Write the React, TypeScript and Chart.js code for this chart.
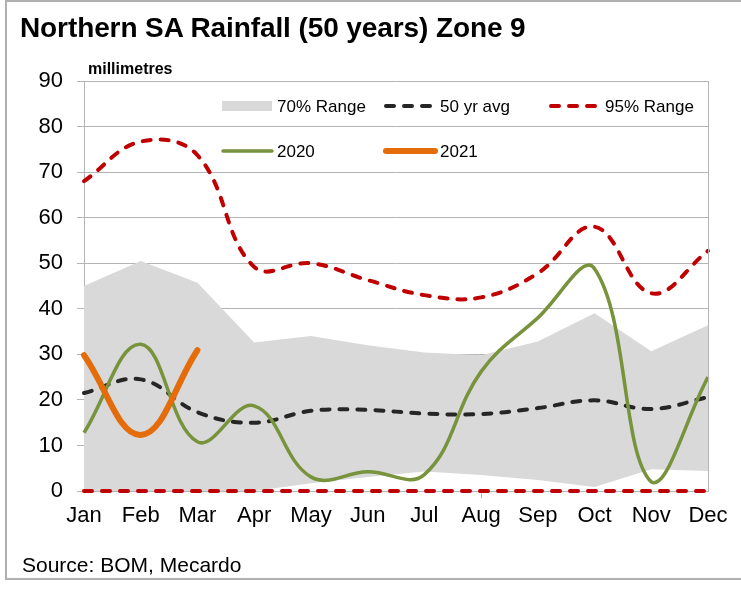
import React, { useEffect, useRef } from "react";
import { Chart, registerables } from "chart.js";

Chart.register(...registerables);

const months = ["Jan", "Feb", "Mar", "Apr", "May", "Jun", "Jul", "Aug", "Sep", "Oct", "Nov", "Dec"];
const range70Upper = [45, 50.5, 45.7, 32.6, 34, 32, 30.4, 29.8, 32.8, 39, 30.7, 36.4];
const range70Lower = [0, 0, 0, 0, 1.7, 3.1, 4.3, 3.5, 2.4, 0.9, 4.8, 4.4];
const avg50 = [21.5, 24.5, 17.3, 15, 17.6, 17.8, 17, 16.9, 18.2, 19.9, 18, 20.6];
const range95Upper = [68, 76.7, 73.7, 49.2, 50, 46.3, 43, 42.5, 47.8, 58, 43.4, 52.7];
const range95Lower = [0, 0, 0, 0, 0, 0, 0, 0, 0, 0, 0, 0];
const rain2020 = [12.8, 32.2, 10.8, 18.7, 3.1, 4.2, 3.6, 26.2, 38, 48.8, 2, 25];
const rain2021 = [29.8, 12.3, 30.9];
const yMin = 0;
const yMax = 90;
const yStep = 10;

const FONT = '"Liberation Sans", Arial, sans-serif';
const GRID = "#B4B4B4";
const RED = "#C00000";
const BLACK = "#262626";
const GREEN = "#77933C";
const ORANGE = "#E46C0A";
const GREY = "#D9D9D9";

const legendItems = [
  { label: "70% Range", kind: "box", color: GREY, row: 0, col: 0 },
  { label: "50 yr avg", kind: "dash", color: BLACK, row: 0, col: 1 },
  { label: "95% Range", kind: "dash", color: RED, row: 0, col: 2 },
  { label: "2020", kind: "line", color: GREEN, width: 3.5, row: 1, col: 0 },
  { label: "2021", kind: "line", color: ORANGE, width: 6, row: 1, col: 1 },
];

const extrasPlugin = {
  id: "extras",
  afterDraw(chart: any) {
    const ctx = chart.ctx;
    const area = chart.chartArea;
    const xs = chart.scales.x;
    ctx.save();
    // right border of plot area
    ctx.strokeStyle = GRID;
    ctx.lineWidth = 1;
    ctx.setLineDash([]);
    ctx.beginPath();
    ctx.moveTo(Math.round(area.right) + 0.5, area.top);
    ctx.lineTo(Math.round(area.right) + 0.5, area.bottom);
    ctx.stroke();
    // single tick mark on category axis
    const tx = Math.round(xs.getPixelForValue(7)) + 0.5;
    ctx.beginPath();
    ctx.moveTo(tx, area.bottom + 2);
    ctx.lineTo(tx, area.bottom + 7);
    ctx.stroke();

    // legend
    const colX = [221, 384, 549];
    const rowY = [106, 151];
    ctx.font = "17px " + FONT;
    ctx.textBaseline = "middle";
    ctx.textAlign = "left";
    legendItems.forEach((it: any) => {
      const x0 = colX[it.col];
      const y = rowY[it.row];
      if (it.kind === "box") {
        ctx.fillStyle = it.color;
        ctx.fillRect(x0 + 1, y - 5, 50, 10);
      } else if (it.kind === "dash") {
        ctx.strokeStyle = it.color;
        ctx.lineWidth = 4;
        ctx.lineCap = "round";
        ctx.setLineDash([8, 10]);
        ctx.beginPath();
        ctx.moveTo(x0 + 2, y);
        ctx.lineTo(x0 + 47, y);
        ctx.stroke();
        ctx.setLineDash([]);
      } else {
        ctx.strokeStyle = it.color;
        ctx.lineWidth = it.width;
        ctx.lineCap = "round";
        ctx.beginPath();
        ctx.moveTo(x0 + 2, y);
        ctx.lineTo(x0 + 51, y);
        ctx.stroke();
      }
      ctx.fillStyle = "#000";
      ctx.fillText(it.label, x0 + 56, y + 1);
    });
    ctx.restore();
  },
};

export default function App() {
  const canvasRef = useRef<HTMLCanvasElement | null>(null);

  useEffect(() => {
    const canvas = canvasRef.current;
    if (!canvas) return;
    const dashed = (color: string) => ({
      borderColor: color,
      borderWidth: 4,
      borderDash: [8, 10],
      borderCapStyle: "round",
      pointRadius: 0,
      fill: false,
      tension: 0.4,
      clip: 8,
    });
    const chart = new Chart(canvas, {
      type: "line",
      data: {
        labels: months,
        datasets: [
          {
            label: "70% Range",
            data: range70Upper,
            borderColor: "rgba(0,0,0,0)",
            borderWidth: 0,
            backgroundColor: GREY,
            pointRadius: 0,
            tension: 0,
            fill: 1,
            order: 10,
          } as any,
          {
            label: "70% lower",
            data: range70Lower,
            borderColor: "rgba(0,0,0,0)",
            borderWidth: 0,
            pointRadius: 0,
            tension: 0,
            fill: false,
            order: 11,
          },
          { label: "95% Range", data: range95Upper, ...dashed(RED), order: 6 } as any,
          { label: "95% lower", data: range95Lower, ...dashed(RED), tension: 0, order: 6 } as any,
          { label: "50 yr avg", data: avg50, ...dashed(BLACK), order: 4 } as any,
          {
            label: "2020",
            data: rain2020,
            borderColor: GREEN,
            borderWidth: 3.5,
            pointRadius: 0,
            fill: false,
            tension: 0.4,
            clip: 8,
            order: 2,
          },
          {
            label: "2021",
            data: rain2021,
            borderColor: ORANGE,
            borderWidth: 6,
            borderCapStyle: "round",
            pointRadius: 0,
            fill: false,
            tension: 0.4,
            clip: 8,
            order: 1,
          } as any,
        ],
      },
      options: {
        animation: false,
        responsive: false,
        devicePixelRatio: 1,
        layout: { padding: { left: 0, right: 33, top: 81, bottom: 0 } },
        plugins: {
          legend: { display: false },
          tooltip: { enabled: false },
          title: { display: false },
        },
        scales: {
          x: {
            type: "category",
            offset: false,
            grid: { display: false, drawTicks: false },
            border: { display: true, color: GRID, width: 1 },
            ticks: {
              color: "#000",
              font: { family: FONT, size: 22 },
              padding: 12,
              maxRotation: 0,
              autoSkip: false,
            },
            afterFit: (s: any) => {
              s.height = 98;
            },
          },
          y: {
            min: yMin,
            max: yMax,
            grid: { color: GRID, lineWidth: 1, drawTicks: true, tickLength: 7 },
            border: { display: true, color: GRID, width: 1 },
            ticks: {
              stepSize: yStep,
              color: "#000",
              font: { family: FONT, size: 22 },
              padding: 14,
            },
            afterFit: (s: any) => {
              s.width = 84;
            },
          },
        },
      },
      plugins: [extrasPlugin],
    } as any);
    return () => chart.destroy();
  }, []);

  return (
    <div
      style={{
        position: "absolute",
        left: 0,
        top: 0,
        width: 741,
        height: 589,
        overflow: "hidden",
        background: "#fff",
      }}
    >
      <div
        style={{
          position: "absolute",
          left: 5,
          top: 0,
          width: 800,
          height: 580,
          border: "2px solid #B0B0B0",
          boxSizing: "border-box",
        }}
      />
      <canvas
        ref={canvasRef}
        width={741}
        height={589}
        style={{ position: "absolute", left: 0, top: 0, width: 741, height: 589 }}
      />
      <div
        style={{
          position: "absolute",
          left: 20,
          top: 14,
          font: "bold 28px " + FONT,
          lineHeight: "28px",
          color: "#000",
          whiteSpace: "nowrap",
          letterSpacing: "-0.1px",
        }}
      >
        Northern SA Rainfall (50 years) Zone 9
      </div>
      <div
        style={{
          position: "absolute",
          left: 88,
          top: 61,
          font: "bold 16px " + FONT,
          lineHeight: "16px",
          color: "#000",
          whiteSpace: "nowrap",
        }}
      >
        millimetres
      </div>
      <div
        style={{
          position: "absolute",
          left: 22,
          top: 554,
          font: "21px " + FONT,
          lineHeight: "21px",
          color: "#000",
          whiteSpace: "nowrap",
        }}
      >
        Source: BOM, Mecardo
      </div>
    </div>
  );
}
